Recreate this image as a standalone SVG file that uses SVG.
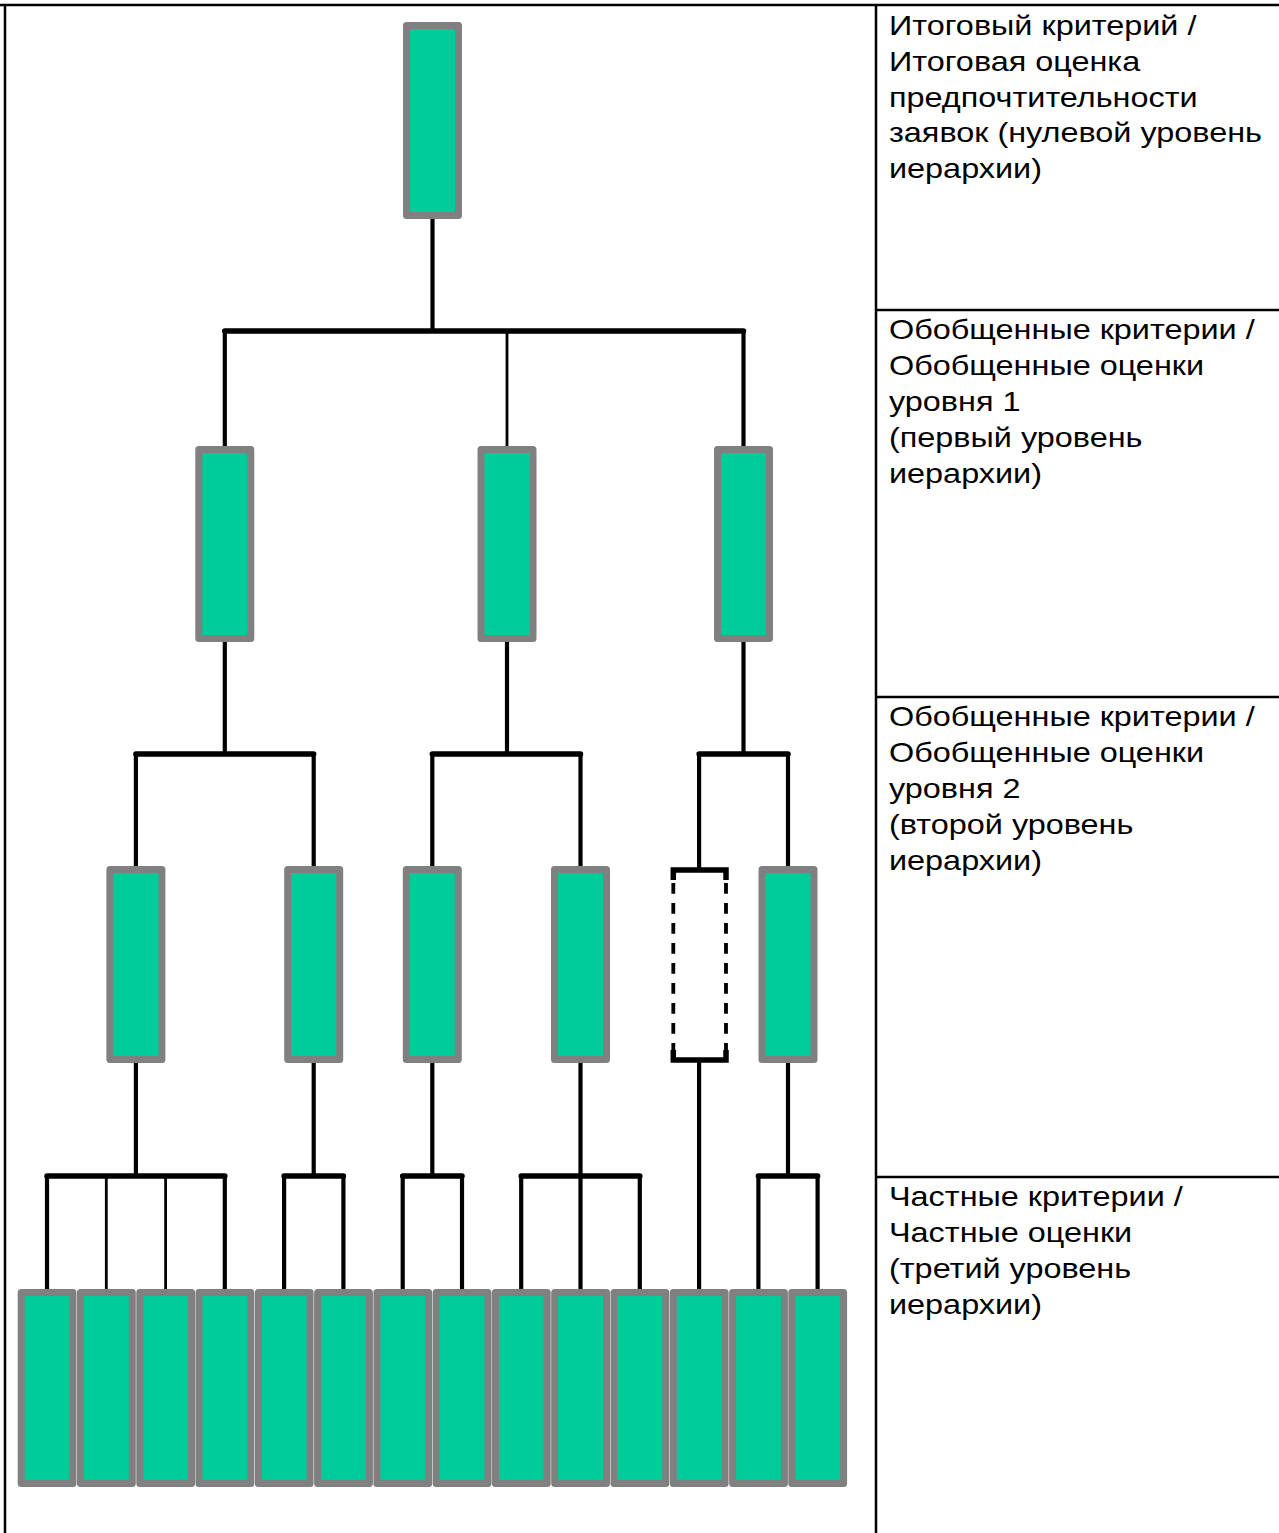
<svg xmlns="http://www.w3.org/2000/svg" width="1279" height="1533" viewBox="0 0 1279 1533">
<style>
.frame{stroke:#000;stroke-width:2.5;fill:none}
.box{fill:#00CC99;stroke:#808080;stroke-width:7;stroke-linejoin:round}
.bar{stroke:#000;stroke-width:5.5;stroke-linecap:round;fill:none}
.ln{stroke:#000;stroke-width:4.2;fill:none}
.thin{stroke:#000;stroke-width:2.8;fill:none}
.lbl{font-family:"Liberation Sans",Arial,sans-serif;font-size:27px;fill:#000}
</style>
<rect width="1279" height="1533" fill="#fff"/>
<g id="table">
<line class="frame" x1="0" y1="5" x2="1279" y2="5"/>
<line class="frame" x1="5" y1="5" x2="5" y2="1533"/>
<line class="frame" x1="876" y1="5" x2="876" y2="1533"/>
<line class="frame" x1="876" y1="310" x2="1279" y2="310"/>
<line class="frame" x1="876" y1="697" x2="1279" y2="697"/>
<line class="frame" x1="876" y1="1177" x2="1279" y2="1177"/>
</g>
<g id="connectors">
<line class="ln" x1="432.5" y1="218" x2="432.5" y2="331"/>
<line class="bar" x1="224.8" y1="331" x2="743.5" y2="331"/>
<line class="ln" x1="224.8" y1="331" x2="224.8" y2="446"/>
<line class="thin" x1="507" y1="331" x2="507" y2="446"/>
<line class="ln" x1="743.5" y1="331" x2="743.5" y2="446"/>
<line class="ln" x1="224.8" y1="642" x2="224.8" y2="754"/>
<line class="ln" x1="507" y1="642" x2="507" y2="754"/>
<line class="ln" x1="743.5" y1="642" x2="743.5" y2="754"/>
<line class="bar" x1="135.9" y1="754" x2="313.7" y2="754"/>
<line class="bar" x1="432.3" y1="754" x2="580.5" y2="754"/>
<line class="bar" x1="699.1" y1="754" x2="788" y2="754"/>
<line class="ln" x1="135.9" y1="754" x2="135.9" y2="866"/>
<line class="ln" x1="313.7" y1="754" x2="313.7" y2="866"/>
<line class="ln" x1="432.3" y1="754" x2="432.3" y2="866"/>
<line class="ln" x1="580.5" y1="754" x2="580.5" y2="866"/>
<line class="ln" x1="699.1" y1="754" x2="699.1" y2="868"/>
<line class="ln" x1="788" y1="754" x2="788" y2="866"/>
<line class="ln" x1="135.9" y1="1062" x2="135.9" y2="1176"/>
<line class="ln" x1="313.7" y1="1062" x2="313.7" y2="1176"/>
<line class="ln" x1="432.3" y1="1062" x2="432.3" y2="1176"/>
<line class="ln" x1="580.5" y1="1062" x2="580.5" y2="1176"/>
<line class="ln" x1="699.1" y1="1062" x2="699.1" y2="1289"/>
<line class="ln" x1="788" y1="1062" x2="788" y2="1176"/>
<line class="bar" x1="47" y1="1176" x2="224.8" y2="1176"/>
<line class="bar" x1="284.1" y1="1176" x2="343.4" y2="1176"/>
<line class="bar" x1="402.7" y1="1176" x2="462" y2="1176"/>
<line class="bar" x1="521.2" y1="1176" x2="639.8" y2="1176"/>
<line class="bar" x1="758.4" y1="1176" x2="817.6" y2="1176"/>
<line class="ln" x1="47" y1="1176" x2="47" y2="1289"/>
<line class="thin" x1="106.3" y1="1176" x2="106.3" y2="1289"/>
<line class="thin" x1="165.6" y1="1176" x2="165.6" y2="1289"/>
<line class="ln" x1="224.8" y1="1176" x2="224.8" y2="1289"/>
<line class="ln" x1="284.1" y1="1176" x2="284.1" y2="1289"/>
<line class="ln" x1="343.4" y1="1176" x2="343.4" y2="1289"/>
<line class="ln" x1="402.7" y1="1176" x2="402.7" y2="1289"/>
<line class="ln" x1="462" y1="1176" x2="462" y2="1289"/>
<line class="ln" x1="521.2" y1="1176" x2="521.2" y2="1289"/>
<line class="ln" x1="580.5" y1="1176" x2="580.5" y2="1289"/>
<line class="ln" x1="639.8" y1="1176" x2="639.8" y2="1289"/>
<line class="ln" x1="758.4" y1="1176" x2="758.4" y2="1289"/>
<line class="ln" x1="817.6" y1="1176" x2="817.6" y2="1289"/>
</g>
<g id="level0"><rect class="box" x="406.5" y="25.5" width="52" height="190"/></g>
<g id="level1">
<rect id="l1a" class="box" x="198.8" y="449.5" width="52" height="189"/>
<rect id="l1b" class="box" x="481" y="449.5" width="52" height="189"/>
<rect id="l1c" class="box" x="717.5" y="449.5" width="52" height="189"/>
</g>
<g id="level2">
<rect id="l2a" class="box" x="109.9" y="869.5" width="52" height="190"/>
<rect id="l2b" class="box" x="287.7" y="869.5" width="52" height="190"/>
<rect id="l2c" class="box" x="406.3" y="869.5" width="52" height="190"/>
<rect id="l2d" class="box" x="554.5" y="869.5" width="52" height="190"/>
<g id="l2e">
<line x1="673.3" y1="880" x2="673.3" y2="1052" stroke="#000" stroke-width="3.8" stroke-dasharray="10.7 9.3" stroke-dashoffset="-3"/>
<line x1="726" y1="880" x2="726" y2="1052" stroke="#000" stroke-width="3.8" stroke-dasharray="10.7 9.3" stroke-dashoffset="-3"/>
<path d="M673.3 880 V870 H726 V880" fill="none" stroke="#000" stroke-width="5.5"/>
<path d="M673.3 1050 V1060 H726 V1050" fill="none" stroke="#000" stroke-width="5.5"/>
</g>
<rect id="l2f" class="box" x="762" y="869.5" width="52" height="190"/>
</g>
<g id="level3">
<rect class="box" x="21.2" y="1292.5" width="51.8" height="191"/>
<rect class="box" x="80.5" y="1292.5" width="51.8" height="191"/>
<rect class="box" x="139.8" y="1292.5" width="51.8" height="191"/>
<rect class="box" x="199" y="1292.5" width="51.8" height="191"/>
<rect class="box" x="258.3" y="1292.5" width="51.8" height="191"/>
<rect class="box" x="317.6" y="1292.5" width="51.8" height="191"/>
<rect class="box" x="376.9" y="1292.5" width="51.8" height="191"/>
<rect class="box" x="436.2" y="1292.5" width="51.8" height="191"/>
<rect class="box" x="495.4" y="1292.5" width="51.8" height="191"/>
<rect class="box" x="554.7" y="1292.5" width="51.8" height="191"/>
<rect class="box" x="614" y="1292.5" width="51.8" height="191"/>
<rect class="box" x="673.3" y="1292.5" width="51.8" height="191"/>
<rect class="box" x="732.6" y="1292.5" width="51.8" height="191"/>
<rect class="box" x="791.8" y="1292.5" width="51.8" height="191"/>
</g>
<g id="labels" class="lbl" transform="translate(889 0) scale(1.2 1)">
<text x="0" y="35">Итоговый критерий /</text>
<text x="0" y="70.8">Итоговая оценка</text>
<text x="0" y="106.6">предпочтительности</text>
<text x="0" y="142.4">заявок (нулевой уровень</text>
<text x="0" y="178.2">иерархии)</text>
<text x="0" y="339.5">Обобщенные критерии /</text>
<text x="0" y="375.3">Обобщенные оценки</text>
<text x="0" y="411.1">уровня 1</text>
<text x="0" y="446.9">(первый уровень</text>
<text x="0" y="482.7">иерархии)</text>
<text x="0" y="726.5">Обобщенные критерии /</text>
<text x="0" y="762.3">Обобщенные оценки</text>
<text x="0" y="798.1">уровня 2</text>
<text x="0" y="833.9">(второй уровень</text>
<text x="0" y="869.7">иерархии)</text>
<text x="0" y="1206.5">Частные критерии /</text>
<text x="0" y="1242.3">Частные оценки</text>
<text x="0" y="1278.1">(третий уровень</text>
<text x="0" y="1313.9">иерархии)</text>
</g>
</svg>
